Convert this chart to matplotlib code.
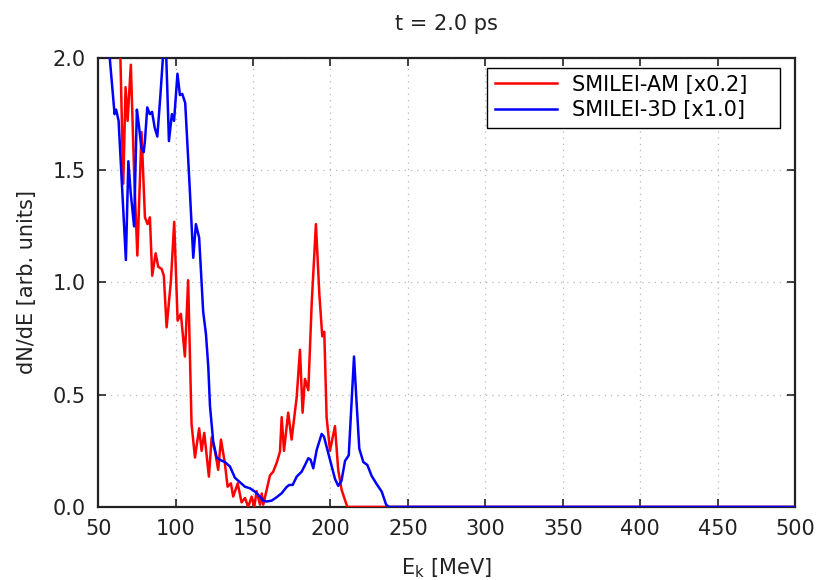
import matplotlib
matplotlib.use("Agg")
import matplotlib.pyplot as plt
from matplotlib.patches import Rectangle

# SMILEI-AM [x0.2]
am_E = [63.4, 66.2, 67.7, 69.0, 71.1, 73.3, 75.3, 78.0, 80.2, 81.9, 83.4, 84.9, 87.1, 88.8,
        91.0, 92.4, 94.2, 97.0, 99.1, 101.3, 103.4, 106.0, 108.1, 110.3, 112.5, 115.2, 116.8,
        118.5, 121.5, 123.3, 125.4, 127.5, 129.3, 131.8, 133.6, 135.7, 137.2, 140.1, 142.6,
        144.8, 146.9, 149.1, 150.8, 152.3, 154.5, 155.6, 156.6, 158.8, 160.9, 163.0, 165.2,
        167.4, 168.5, 170.0, 172.7, 174.9, 178.2, 180.3, 182.0, 183.5, 185.7, 187.9, 190.6,
        192.8, 194.7, 196.0, 197.5, 199.7, 202.9, 205.0, 207.2, 209.4, 210.9, 300.0, 400.0, 500.0]
am_val = [2.30, 1.44, 1.87, 1.72, 1.97, 1.47, 1.12, 1.67, 1.29, 1.26, 1.29, 1.03, 1.13, 1.07,
          1.06, 1.03, 0.80, 1.01, 1.27, 0.83, 0.86, 0.67, 1.01, 0.37, 0.22, 0.35, 0.25,
          0.33, 0.135, 0.31, 0.25, 0.165, 0.30, 0.195, 0.09, 0.105, 0.046, 0.105, 0.02,
          0.04, 0.0, 0.046, 0.0, 0.07, 0.01, 0.06, 0.01, 0.076, 0.14, 0.157, 0.195,
          0.246, 0.40, 0.25, 0.42, 0.30, 0.49, 0.70, 0.42, 0.57, 0.52, 0.91, 1.26,
          0.95, 0.76, 0.78, 0.40, 0.25, 0.36, 0.165, 0.076, 0.03, 0.0, 0.0, 0.0, 0.0]

# SMILEI-3D [x1.0]
d3_E = [55.0, 60.6, 61.6, 63.2, 67.9, 69.5, 71.0, 73.2, 75.0, 76.3, 77.9, 79.4, 80.2, 81.7,
        83.3, 84.8, 86.5, 88.2, 90.2, 91.6, 92.4, 93.7, 94.6, 95.7, 97.6, 99.0, 101.2, 102.8,
        104.3, 106.2, 108.9, 111.4, 113.1, 115.2, 117.8, 119.6, 121.1, 122.2, 124.3, 126.5,
        128.6, 131.8, 135.1, 138.3, 141.5, 144.8, 148.0, 151.2, 154.5, 156.6, 158.8, 162.0,
        165.2, 168.5, 171.7, 173.4, 175.6, 178.2, 181.4, 183.1, 185.7, 187.2, 188.9, 191.1,
        194.3, 195.8, 199.7, 202.9, 205.0, 207.1, 209.4, 211.8, 215.2, 216.9, 218.6, 221.2,
        223.8, 226.6, 229.8, 233.1, 236.0, 238.0, 300.0, 400.0, 500.0]
d3_val = [2.20, 1.75, 1.77, 1.72, 1.10, 1.54, 1.40, 1.25, 1.77, 1.70, 1.60, 1.58, 1.63, 1.78,
          1.75, 1.76, 1.69, 1.65, 1.835, 1.98, 2.06, 2.06, 1.87, 1.63, 1.75, 1.72, 1.93, 1.835,
          1.84, 1.80, 1.45, 1.11, 1.26, 1.20, 0.87, 0.77, 0.625, 0.45, 0.29, 0.22,
          0.21, 0.20, 0.18, 0.13, 0.11, 0.09, 0.083, 0.068, 0.046, 0.028, 0.024, 0.028,
          0.043, 0.061, 0.089, 0.098, 0.098, 0.135, 0.157, 0.18, 0.217, 0.21, 0.172, 0.254,
          0.325, 0.313, 0.21, 0.125, 0.094, 0.116, 0.205, 0.23, 0.67, 0.46, 0.26, 0.20,
          0.187, 0.138, 0.102, 0.068, 0.009, 0.0, 0.0, 0.0, 0.0]

labels = ["SMILEI-AM [x0.2]", "SMILEI-3D [x1.0]"]
title = "t = 2.0 ps"
xticks = [50, 100, 150, 200, 250, 300, 350, 400, 450, 500]
yticks = [0.0, 0.5, 1.0, 1.5, 2.0]

plt.rcParams['font.family'] = ['DejaVu Sans']
fig = plt.figure(figsize=(8.18, 5.8), dpi=100)
ax = fig.add_axes([0.12, 0.126, 0.852, 0.774])

ax.plot(am_E, am_val, color='#ff0000', lw=1.8, label=labels[0], zorder=3)
ax.plot(d3_E, d3_val, color='#0000ff', lw=1.8, label=labels[1], zorder=3)

ax.set_xlim(50, 500)
ax.set_ylim(0, 2.0)
ax.set_xticks(xticks)
ax.set_yticks(yticks)
ax.set_yticklabels([f"{v:.1f}" for v in yticks])
ax.grid(True, color='#b8b8b8', linestyle=(0, (1, 4)), linewidth=0.9)
ax.tick_params(direction='in', top=True, right=True, length=6, width=1.2,
               labelsize=15, pad=9, colors='#222222')
for s in ax.spines.values():
    s.set_linewidth(1.6)
    s.set_color('#222222')
    s.set_zorder(2.5)

ax.set_xlabel(r"E$_\mathregular{k}$ [MeV]", fontsize=15, labelpad=12, color='#222222')
ax.set_ylabel("dN/dE [arb. units]", fontsize=15, labelpad=11, color='#222222')
ax.set_title(title, fontsize=15, pad=20, color='#222222')

# legend frame (wider than content, as in reference)
frame = Rectangle((0.558, 0.844), 0.421, 0.134, transform=ax.transAxes,
                  facecolor='white', edgecolor='black', linewidth=1.0, zorder=4)
ax.add_patch(frame)
leg = ax.legend(loc='upper left', bbox_to_anchor=(0.5585, 0.979), fontsize=15,
                frameon=False, borderpad=0.35, handlelength=3.0,
                handletextpad=0.7, labelspacing=0.25, borderaxespad=0.0)
leg.set_zorder(5)

fig.savefig("out.png", dpi=100)
